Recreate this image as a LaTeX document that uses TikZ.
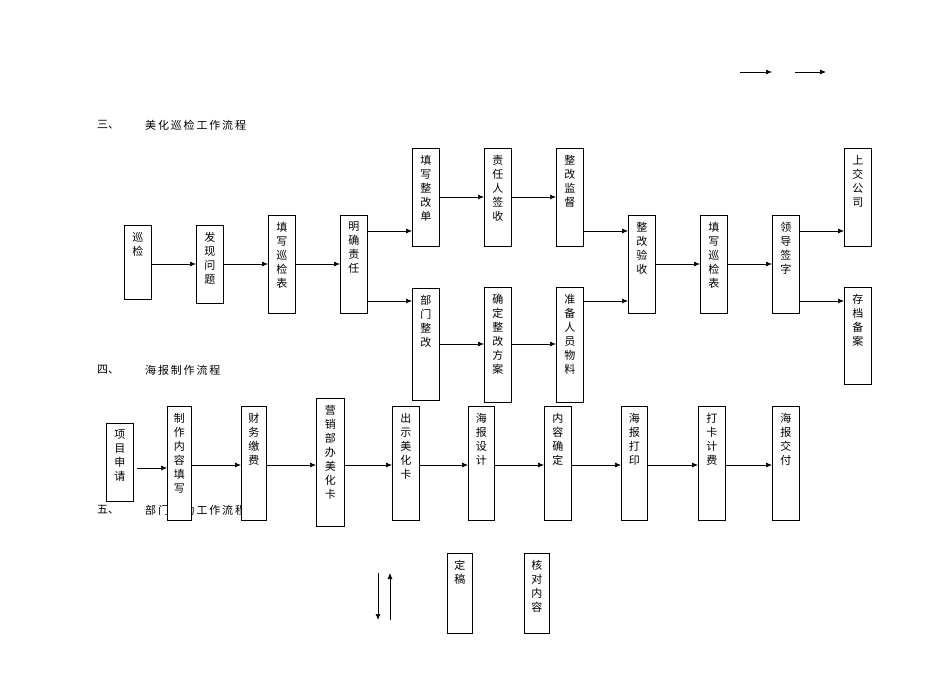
\documentclass[tikz,border=0pt]{standalone}
\usepackage{fontspec}
\newfontfamily\cjk{Noto Sans CJK SC}
\usetikzlibrary{arrows.meta}
\tikzset{
  box/.style={draw,fill=white,line width=0.8pt,inner sep=0pt,anchor=north west},
  vtext/.style={anchor=north,align=center,inner sep=0pt,font=\cjk\fontsize{11}{14}\selectfont},
  arr/.style={line width=0.7pt,-{Latex[length=6pt,width=5pt]}},
  head/.style={anchor=west,inner sep=0pt,font=\cjk\fontsize{11}{13}\selectfont}
}
\newcommand\bx[6]{%
  \node[box,minimum width={(#4-#2)*1pt},minimum height={(#5-#3)*1pt}] (#1) at (#2,#3) {};
  \node[vtext] (#1t) at ([yshift=-7pt]#1.north) {#6};}
\begin{document}
\begin{tikzpicture}[x=1pt,y=-1pt]
\useasboundingbox (0,0) rectangle (950,672);
% top right arrows
\coordinate (ta1) at (740,72); \coordinate (tb1) at (772,72);
\coordinate (ta2) at (795,72); \coordinate (tb2) at (826,72);
\draw[arr] (ta1) -- (tb1); \draw[arr] (ta2) -- (tb2);
% headings
\node[head] (h3a) at (97,125) {三、};
\node[head] (h3b) at (145,125) {美\,化\,巡\,检\,工\,作\,流\,程};
\node[head] (h4a) at (97,370) {四、};
\node[head] (h4b) at (145,370) {海\,报\,制\,作\,流\,程};
\node[head] (h5a) at (97,510) {五、};
\node[head] (h5b) at (145,510) {部\,门\,协\,助\,工\,作\,流\,程};
% section 3
\bx{a1}{124}{225}{151}{299}{巡\\检}
\bx{a2}{196}{225}{223}{303}{发\\现\\问\\题}
\bx{a3}{268}{215}{295}{313}{填\\写\\巡\\检\\表}
\bx{a4}{340}{215}{367}{313}{明\\确\\责\\任}
\bx{b1}{412}{148}{439}{246}{填\\写\\整\\改\\单}
\bx{b2}{484}{148}{511}{246}{责\\任\\人\\签\\收}
\bx{b3}{556}{148}{583}{246}{整\\改\\监\\督}
\bx{c1}{412}{288}{439}{400}{部\\门\\整\\改}
\bx{c2}{484}{287}{511}{402}{确\\定\\整\\改\\方\\案}
\bx{c3}{556}{287}{583}{402}{准\\备\\人\\员\\物\\料}
\bx{a5}{628}{215}{655}{313}{整\\改\\验\\收}
\bx{a6}{700}{215}{727}{313}{填\\写\\巡\\检\\表}
\bx{a7}{772}{215}{799}{313}{领\\导\\签\\字}
\bx{d1}{844}{148}{871}{246}{上\\交\\公\\司}
\bx{d2}{844}{287}{871}{384}{存\\档\\备\\案}
\draw[arr] (a1.east|-0,264) -- (a2.west|-0,264);
\draw[arr] (a2.east|-0,264) -- (a3.west|-0,264);
\draw[arr] (a3.east|-0,264) -- (a4.west|-0,264);
\draw[arr] (a4.east|-0,231) -- (b1.west|-0,231);
\draw[arr] (a4.east|-0,301) -- (c1.west|-0,301);
\draw[arr] (b1.east|-0,197) -- (b2.west|-0,197);
\draw[arr] (b2.east|-0,197) -- (b3.west|-0,197);
\draw[arr] (c1.east|-0,344) -- (c2.west|-0,344);
\draw[arr] (c2.east|-0,344) -- (c3.west|-0,344);
\draw[arr] (b3.east|-0,231) -- (a5.west|-0,231);
\draw[arr] (c3.east|-0,301) -- (a5.west|-0,301);
\draw[arr] (a5.east|-0,264) -- (a6.west|-0,264);
\draw[arr] (a6.east|-0,264) -- (a7.west|-0,264);
\draw[arr] (a7.east|-0,231) -- (d1.west|-0,231);
\draw[arr] (a7.east|-0,301) -- (d2.west|-0,301);
% section 4
\bx{e1}{106}{423}{133}{501}{项\\目\\申\\请}
\bx{e2}{167}{406}{191}{520}{制\\作\\内\\容\\填\\写}
\bx{e3}{241}{406}{266}{520}{财\\务\\缴\\费}
\bx{e4}{316}{398}{344}{526}{营\\销\\部\\办\\美\\化\\卡}
\bx{e5}{392}{406}{419}{520}{出\\示\\美\\化\\卡}
\bx{e6}{468}{406}{494}{520}{海\\报\\设\\计}
\bx{e7}{544}{406}{571}{520}{内\\容\\确\\定}
\bx{e8}{621}{406}{647}{520}{海\\报\\打\\印}
\bx{e9}{698}{406}{725}{520}{打\\卡\\计\\费}
\bx{e10}{772}{406}{799}{520}{海\\报\\交\\付}
\coordinate (s0) at (137,468);
\draw[arr] (s0) -- (e2.west|-s0);
\draw[arr] (e2.east|-0,465) -- (e3.west|-0,465);
\draw[arr] (e3.east|-0,465) -- (e4.west|-0,465);
\draw[arr] (e4.east|-0,465) -- (e5.west|-0,465);
\draw[arr] (e5.east|-0,465) -- (e6.west|-0,465);
\draw[arr] (e6.east|-0,465) -- (e7.west|-0,465);
\draw[arr] (e7.east|-0,465) -- (e8.west|-0,465);
\draw[arr] (e8.east|-0,465) -- (e9.west|-0,465);
\draw[arr] (e9.east|-0,465) -- (e10.west|-0,465);
% section 5
\bx{f1}{447}{553}{472}{633}{定\\稿}
\bx{f2}{524}{553}{549}{633}{核\\对\\内\\容}
\coordinate (v1a) at (378,573); \coordinate (v1b) at (378,620);
\coordinate (v2a) at (390,620); \coordinate (v2b) at (390,573);
\draw[arr] (v1a) -- (v1b); \draw[arr] (v2a) -- (v2b);
\end{tikzpicture}
\end{document}
